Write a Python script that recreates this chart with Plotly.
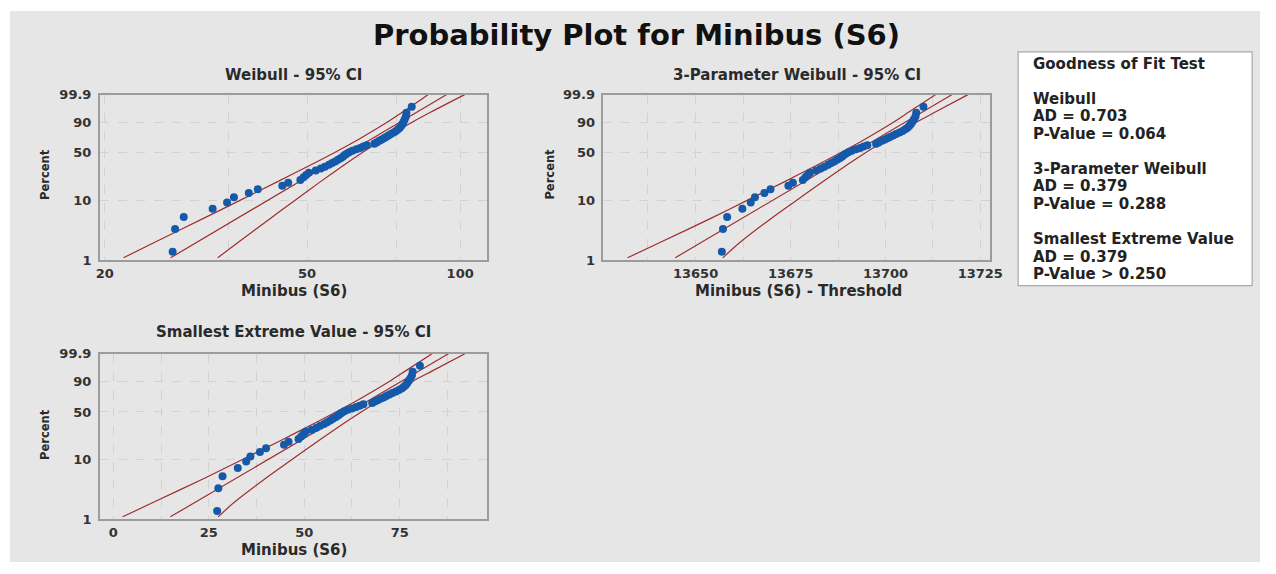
import math
import plotly.graph_objects as go

W, H = 1276, 574

# ---------------- data ----------------
MINIBUS = [27.2, 27.5, 28.6, 32.6, 34.8, 35.9, 38.4, 40.0, 44.7, 45.9,
           48.5, 49.2, 49.8, 50.4, 52.0, 53.2, 54.2, 55.2, 56.0, 56.8,
           57.5, 58.2, 58.8, 59.3, 59.8, 60.5, 61.4, 62.5, 63.6, 64.5,
           65.5, 67.8, 68.5, 69.2, 70.0, 70.8, 71.5, 72.3, 73.1, 74.0,
           74.8, 75.5, 76.1, 76.6, 77.0, 77.4, 77.8, 78.2, 78.4, 80.3]
THRESHOLD_3P = -13629.7

PERCENT_TICKS = [1, 10, 50, 90, 99.9]
PERCENT_TICK_TEXT = ["1", "10", "50", "90", "99.9"]

WB_X_TICKS = [20, 35, 50, 75, 100]
WB_X_TICK_TEXT = ["20", "", "50", "", "100"]
SEV_X_TICKS = [0, 12.5, 25, 37.5, 50, 62.5, 75, 87.5]
SEV_X_TICK_TEXT = ["0", "", "25", "", "50", "", "75", ""]
P3_X_TICKS = [13637.5, 13650, 13662.5, 13675, 13687.5, 13700, 13712.5, 13725]
P3_X_TICK_TEXT = ["", "13650", "", "13675", "", "13700", "", "13725"]

CI_PCT = [1.1, 2, 5, 10, 20, 35, 50, 70, 90, 97, 99.9]
FIT_PCT = [1.1, 99.9]

WB_FIT_X = [26.95, 93.91]
WB_UPPER = [21.77, 25.03, 31.13, 36.81, 43.76, 50.80, 56.42, 63.33, 71.71, 77.22, 86.42]
WB_LOWER = [33.36, 36.56, 42.21, 47.22, 53.14, 59.10, 64.02, 70.67, 80.30, 87.80, 102.06]

SEV_FIT_X = [14.95, 87.76]
SEV_UPPER = [2.45, 10.93, 24.02, 33.70, 43.74, 52.31, 58.32, 65.0, 72.27, 76.56, 83.46]
SEV_LOWER = [27.45, 31.93, 40.02, 46.70, 53.74, 60.11, 64.92, 70.8, 78.27, 83.56, 92.06]

GOF_LINES = ["Goodness of Fit Test", "", "Weibull", "AD = 0.703", "P-Value = 0.064", "",
             "3-Parameter Weibull", "AD = 0.379", "P-Value = 0.288", "",
             "Smallest Extreme Value", "AD = 0.379", "P-Value > 0.250"]

# ---------------- helpers ----------------
def wz(p):
    # Weibull / smallest-extreme-value probability scale
    return math.log(-math.log(1 - p / 100.0))

N = len(MINIBUS)
ranks_pct = [100.0 * (i + 1 - 0.3) / (N + 0.4) for i in range(N)]
pts_z = [wz(p) for p in ranks_pct]
ci_z = [wz(p) for p in CI_PCT]
fit_z = [wz(p) for p in FIT_PCT]

def fx(x):
    return x / W

def fy(y):
    return 1 - y / H

FONT = "DejaVu Sans"
LINE_COL = "#9E2F2F"
PT_COL = "#1459AA"
GRID = "#d2d2d2"
FRAME = "#9c9c9c"

fig = go.Figure()

def add_panel(xs_fit, xs_up, xs_lo, pts, xa, ya):
    for xs, zs in ((xs_up, ci_z), (xs_fit, fit_z), (xs_lo, ci_z)):
        fig.add_trace(go.Scatter(x=xs, y=zs, mode="lines", xaxis=xa, yaxis=ya,
                                 line=dict(color=LINE_COL, width=1.2, shape="spline", smoothing=0.8),
                                 hoverinfo="skip", showlegend=False))
    fig.add_trace(go.Scatter(x=pts, y=pts_z, mode="markers", xaxis=xa, yaxis=ya,
                             marker=dict(color=PT_COL, size=8, line=dict(width=0)),
                             showlegend=False))

add_panel(WB_FIT_X, WB_UPPER, WB_LOWER, MINIBUS, "x", "y")
add_panel([v - THRESHOLD_3P for v in SEV_FIT_X], [v - THRESHOLD_3P for v in SEV_UPPER],
          [v - THRESHOLD_3P for v in SEV_LOWER], [v - THRESHOLD_3P for v in MINIBUS], "x2", "y2")
add_panel(SEV_FIT_X, SEV_UPPER, SEV_LOWER, MINIBUS, "x3", "y3")

tickfont = dict(family=FONT, size=13, color="#333333", weight="bold")
yrange = [wz(1), wz(99.9)]
common_axis = dict(showline=True, linecolor=FRAME, linewidth=1.5, mirror=True,
                   showgrid=True, gridcolor=GRID, gridwidth=1.3, griddash="dash",
                   zeroline=False, ticks="", tickfont=tickfont, fixedrange=True)
yaxis_common = dict(common_axis, range=yrange, tickmode="array", ticklabelstandoff=4,
                    tickvals=[wz(p) for p in PERCENT_TICKS], ticktext=PERCENT_TICK_TEXT)

top_dom = [fy(260), fy(90)]
bot_dom = [fy(526), fy(356)]
left_dom = [fx(97), fx(489)]
right_dom = [fx(607), fx(999)]

fig.update_layout(
    width=W, height=H, margin=dict(l=0, r=0, t=0, b=0),
    paper_bgcolor="white", plot_bgcolor="white", showlegend=False,
    xaxis=dict(common_axis, domain=left_dom, anchor="y", type="log",
               range=[1.2913, 2.0525], tickmode="array", tickvals=WB_X_TICKS, ticktext=WB_X_TICK_TEXT),
    yaxis=dict(yaxis_common, domain=top_dom, anchor="x"),
    xaxis2=dict(common_axis, domain=right_dom, anchor="y2", type="log",
                range=[math.log10(13625.8), math.log10(13727.7)], tickmode="array",
                tickvals=P3_X_TICKS, ticktext=P3_X_TICK_TEXT),
    yaxis2=dict(yaxis_common, domain=top_dom, anchor="x2"),
    xaxis3=dict(common_axis, domain=left_dom, anchor="y3", range=[-3.54, 97.83],
                tickmode="array", tickvals=SEV_X_TICKS, ticktext=SEV_X_TICK_TEXT),
    yaxis3=dict(yaxis_common, domain=bot_dom, anchor="x3"),
)

# gray chart background
fig.add_shape(type="rect", xref="paper", yref="paper", x0=fx(6), x1=fx(1272), y0=fy(570), y1=fy(4),
              fillcolor="#e6e6e6", line=dict(width=0), layer="below")
# goodness-of-fit box
fig.add_shape(type="rect", xref="paper", yref="paper", x0=fx(1027), x1=fx(1264), y0=fy(286), y1=fy(46),
              fillcolor="white", line=dict(color="#a8a8a8", width=1.2), layer="above")

def ann(text, x, y, size, color="#222", angle=0, xanchor="center"):
    fig.add_annotation(text="<b>%s</b>" % text, x=fx(x), y=fy(y), xref="paper", yref="paper",
                       showarrow=False, xanchor=xanchor, yanchor="middle", textangle=angle,
                       font=dict(family=FONT, size=size, color=color))

ann("Probability Plot for Minibus (S6)", 641, 29, 29, color="#111111")
ann("Weibull - 95% CI", 293, 70, 15, color="#2a2a2a")
ann("3-Parameter Weibull - 95% CI", 803, 70, 15, color="#2a2a2a")
ann("Smallest Extreme Value - 95% CI", 293, 334, 15, color="#2a2a2a")
ann("Minibus (S6)", 294, 292, 15, color="#2a2a2a")
ann("Minibus (S6) - Threshold", 805, 292, 15, color="#2a2a2a")
ann("Minibus (S6)", 294, 558, 15, color="#2a2a2a")
ann("Percent", 41, 172, 11.5, color="#2a2a2a", angle=-90)
ann("Percent", 552, 172, 11.5, color="#2a2a2a", angle=-90)
ann("Percent", 41, 439, 11.5, color="#2a2a2a", angle=-90)

y0 = 58.3
for k, line in enumerate(GOF_LINES):
    if line:
        ann(line, 1040, y0 + 18.0 * k, 15, color="#222222", xanchor="left")

fig.write_html("out.html",
               post_script="document.body.style.margin='0';document.body.style.overflow='hidden';")
